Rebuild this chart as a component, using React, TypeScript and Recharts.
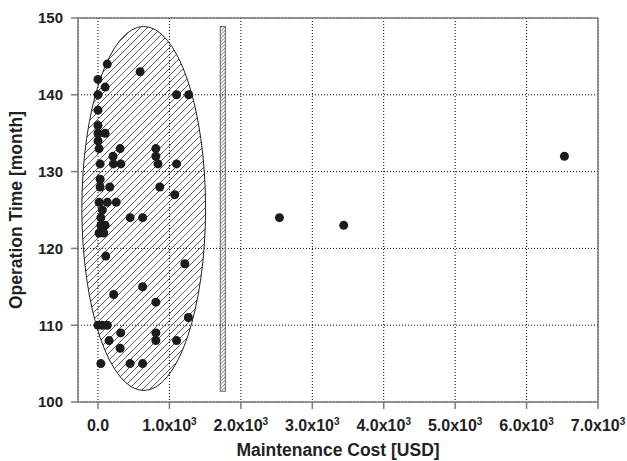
import React from 'react';
import { ScatterChart, Scatter, XAxis, YAxis, CartesianGrid, ReferenceArea, ReferenceLine } from 'recharts';

// maintenance cost (USD) and operation time (month) of each unit
const costs = [
  130, 590, 0, 100, 0, 1100, 1270, 0, 0, 0, 100, 0, 15, 310, 810, 210, 810, 30, 215, 320, 840, 1100,
  30, 30, 165, 865, 1075, 15, 130, 255, 60, 40, 450, 625, 40, 100, 15, 80, 108, 1215, 625, 220, 810,
  1265, 0, 60, 130, 318, 810, 155, 810, 1100, 310, 40, 450, 625, 2540, 3440, 6530,
];
const months = [
  144, 143, 142, 141, 140, 140, 140, 138, 136, 135, 135, 134, 133, 133, 133, 132, 132, 131, 131, 131, 131, 131,
  129, 128, 128, 128, 127, 126, 126, 126, 125, 124, 124, 124, 123, 123, 122, 122, 119, 118, 115, 114, 113,
  111, 110, 110, 110, 109, 109, 108, 108, 108, 107, 105, 105, 105, 124, 123, 132,
];

const xTicks = [0, 1000, 2000, 3000, 4000, 5000, 6000, 7000];
const yTicks = [100, 110, 120, 130, 140, 150];

// hatched ellipse around the cluster: [xMin, xMax], [yMin, yMax]
const clusterX = [-226, 1506];
const clusterY = [101.5, 148.9];
// narrow hatched separator bar
const barX = [1712, 1783];
const barY = [101.4, 148.9];

const points = costs.map((c, i) => ({ cost: c, month: months[i] }));

const font = '"Liberation Sans", Arial, sans-serif';
const axisColor = '#7a7a7a';

const EllipseShape = (props: any) => {
  const { x, y, width, height } = props;
  return (
    <g>
      <defs>
        <pattern id="hatchEllipse" patternUnits="userSpaceOnUse" width={7} height={7}>
          <path d="M-1,1 l2,-2 M0,7 l7,-7 M6,8 l2,-2" stroke="#333" strokeWidth={0.8} />
        </pattern>
      </defs>
      <ellipse
        cx={x + width / 2}
        cy={y + height / 2}
        rx={width / 2}
        ry={height / 2}
        fill="url(#hatchEllipse)"
        stroke="#222"
        strokeWidth={1}
      />
    </g>
  );
};

const BarShape = (props: any) => {
  const { x, y, width, height } = props;
  return (
    <g>
      <defs>
        <pattern id="hatchBar" patternUnits="userSpaceOnUse" width={3.5} height={3.5}>
          <path d="M-1,1 l2,-2 M0,3.5 l3.5,-3.5 M2.5,4.5 l2,-2" stroke="#555" strokeWidth={0.8} />
        </pattern>
      </defs>
      <rect x={x} y={y} width={width} height={height} fill="url(#hatchBar)" stroke="#666" strokeWidth={1} />
    </g>
  );
};

const Dot = (props: any) => <circle cx={props.cx} cy={props.cy} r={4.5} fill="#1c1c1c" />;

const CostTick = (props: any) => {
  const { x, y, payload } = props;
  const v = payload.value as number;
  return (
    <text x={x} y={y} dy={19.5} textAnchor="middle" fill="#222" fontSize={16} fontWeight="bold" fontFamily={font}>
      {v === 0 ? (
        '0.0'
      ) : (
        <>
          {(v / 1000).toFixed(1)}x10
          <tspan fontSize={10} dy={-6}>3</tspan>
        </>
      )}
    </text>
  );
};

const XTitle = (props: any) => {
  const { x, y, width, height } = props.viewBox;
  return (
    <text x={x + width / 2} y={y + height - 5} textAnchor="middle" fill="#222" fontSize={17.5} fontWeight="bold" fontFamily={font}>
      Maintenance Cost [USD]
    </text>
  );
};

const YTitle = (props: any) => {
  const { x, y, height } = props.viewBox;
  const cx = x + 15.5;
  const cy = y + height / 2;
  return (
    <text
      x={cx}
      y={cy}
      transform={`rotate(-90, ${cx}, ${cy})`}
      textAnchor="middle"
      dominantBaseline="central"
      fill="#222"
      fontSize={17.5}
      fontWeight="bold"
      fontFamily={font}
    >
      Operation Time [month]
    </text>
  );
};

const App: React.FC = () => {
  return (
    <div style={{ position: 'fixed', left: 0, top: 0, width: 627, height: 461, overflow: 'hidden', background: '#fff' }}>
      <ScatterChart width={627} height={461} margin={{ top: 18, right: 29, left: 0, bottom: 0 }}>
        <CartesianGrid stroke="#000" strokeDasharray="1 2" />
        <XAxis
          type="number"
          dataKey="cost"
          domain={[-280, 7000]}
          ticks={xTicks}
          allowDataOverflow
          height={59}
          tick={<CostTick />}
          tickSize={7}
          axisLine={{ stroke: axisColor, strokeWidth: 1.5 }}
          tickLine={{ stroke: axisColor, strokeWidth: 1.5 }}
          label={{ content: <XTitle /> }}
        />
        <YAxis
          type="number"
          dataKey="month"
          domain={[100, 150]}
          ticks={yTicks}
          allowDataOverflow
          width={78}
          tickSize={7}
          tickMargin={8}
          tick={{ fill: '#222', fontSize: 15, fontWeight: 'bold', fontFamily: font }}
          axisLine={{ stroke: axisColor, strokeWidth: 1.5 }}
          tickLine={{ stroke: axisColor, strokeWidth: 1.5 }}
          label={{ content: <YTitle /> }}
        />
        <ReferenceLine y={150} stroke={axisColor} strokeWidth={1.5} />
        <ReferenceLine x={7000} stroke={axisColor} strokeWidth={1.5} />
        <ReferenceArea x1={clusterX[0]} x2={clusterX[1]} y1={clusterY[0]} y2={clusterY[1]} shape={<EllipseShape />} />
        <ReferenceArea x1={barX[0]} x2={barX[1]} y1={barY[0]} y2={barY[1]} shape={<BarShape />} />
        <Scatter data={points} shape={<Dot />} isAnimationActive={false} />
      </ScatterChart>
    </div>
  );
};

export default App;
